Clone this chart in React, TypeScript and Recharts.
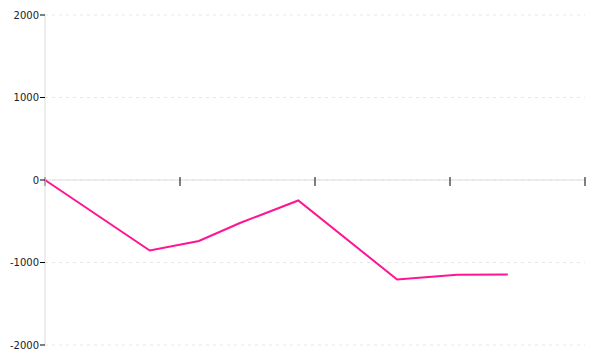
import { LineChart, Line, XAxis, YAxis, CartesianGrid, ReferenceLine } from 'recharts';

const xValues = [0, 19.4, 28.5, 36.1, 46.9, 65.2, 76.3, 85.7];
const yValues = [0, -855, -739, -521, -248, -1206, -1148, -1145];
const yTicks = [-2000, -1000, 0, 1000, 2000];
const xTicks = [0, 25, 50, 75, 100];

const data = xValues.map((x, i) => ({ x, value: yValues[i] }));

export default function App() {
  return (
    <div style={{ position: 'absolute', left: 0, top: 0, width: 600, height: 360, background: '#fff' }}>
      <LineChart width={600} height={360} data={data} margin={{ top: 15, right: 15, bottom: 15, left: 0 }}>
        <CartesianGrid vertical={false} strokeDasharray='3 4' stroke='#e8e8e8' />
        <XAxis dataKey='x' type='number' domain={[0, 100]} ticks={xTicks} hide />
        <YAxis
          type='number'
          domain={[-2000, 2000]}
          ticks={yTicks}
          width={45}
          tickSize={5}
          tickMargin={1}
          axisLine={{ stroke: '#dddddd' }}
          tickLine={{ stroke: '#000' }}
          tick={{ fontSize: 10, fill: '#222', fontFamily: 'DejaVu Sans' }}
        />
        <ReferenceLine y={0} stroke='#dddddd' />
        {xTicks.map(t => (
          <ReferenceLine
            key={t}
            segment={[{ x: t, y: 36 }, { x: t, y: -72 }]}
            stroke='#000'
          />
        ))}
        <Line
          type='linear'
          dataKey='value'
          stroke='#ff1493'
          strokeWidth={2}
          dot={false}
          isAnimationActive={false}
        />
      </LineChart>
    </div>
  );
}
